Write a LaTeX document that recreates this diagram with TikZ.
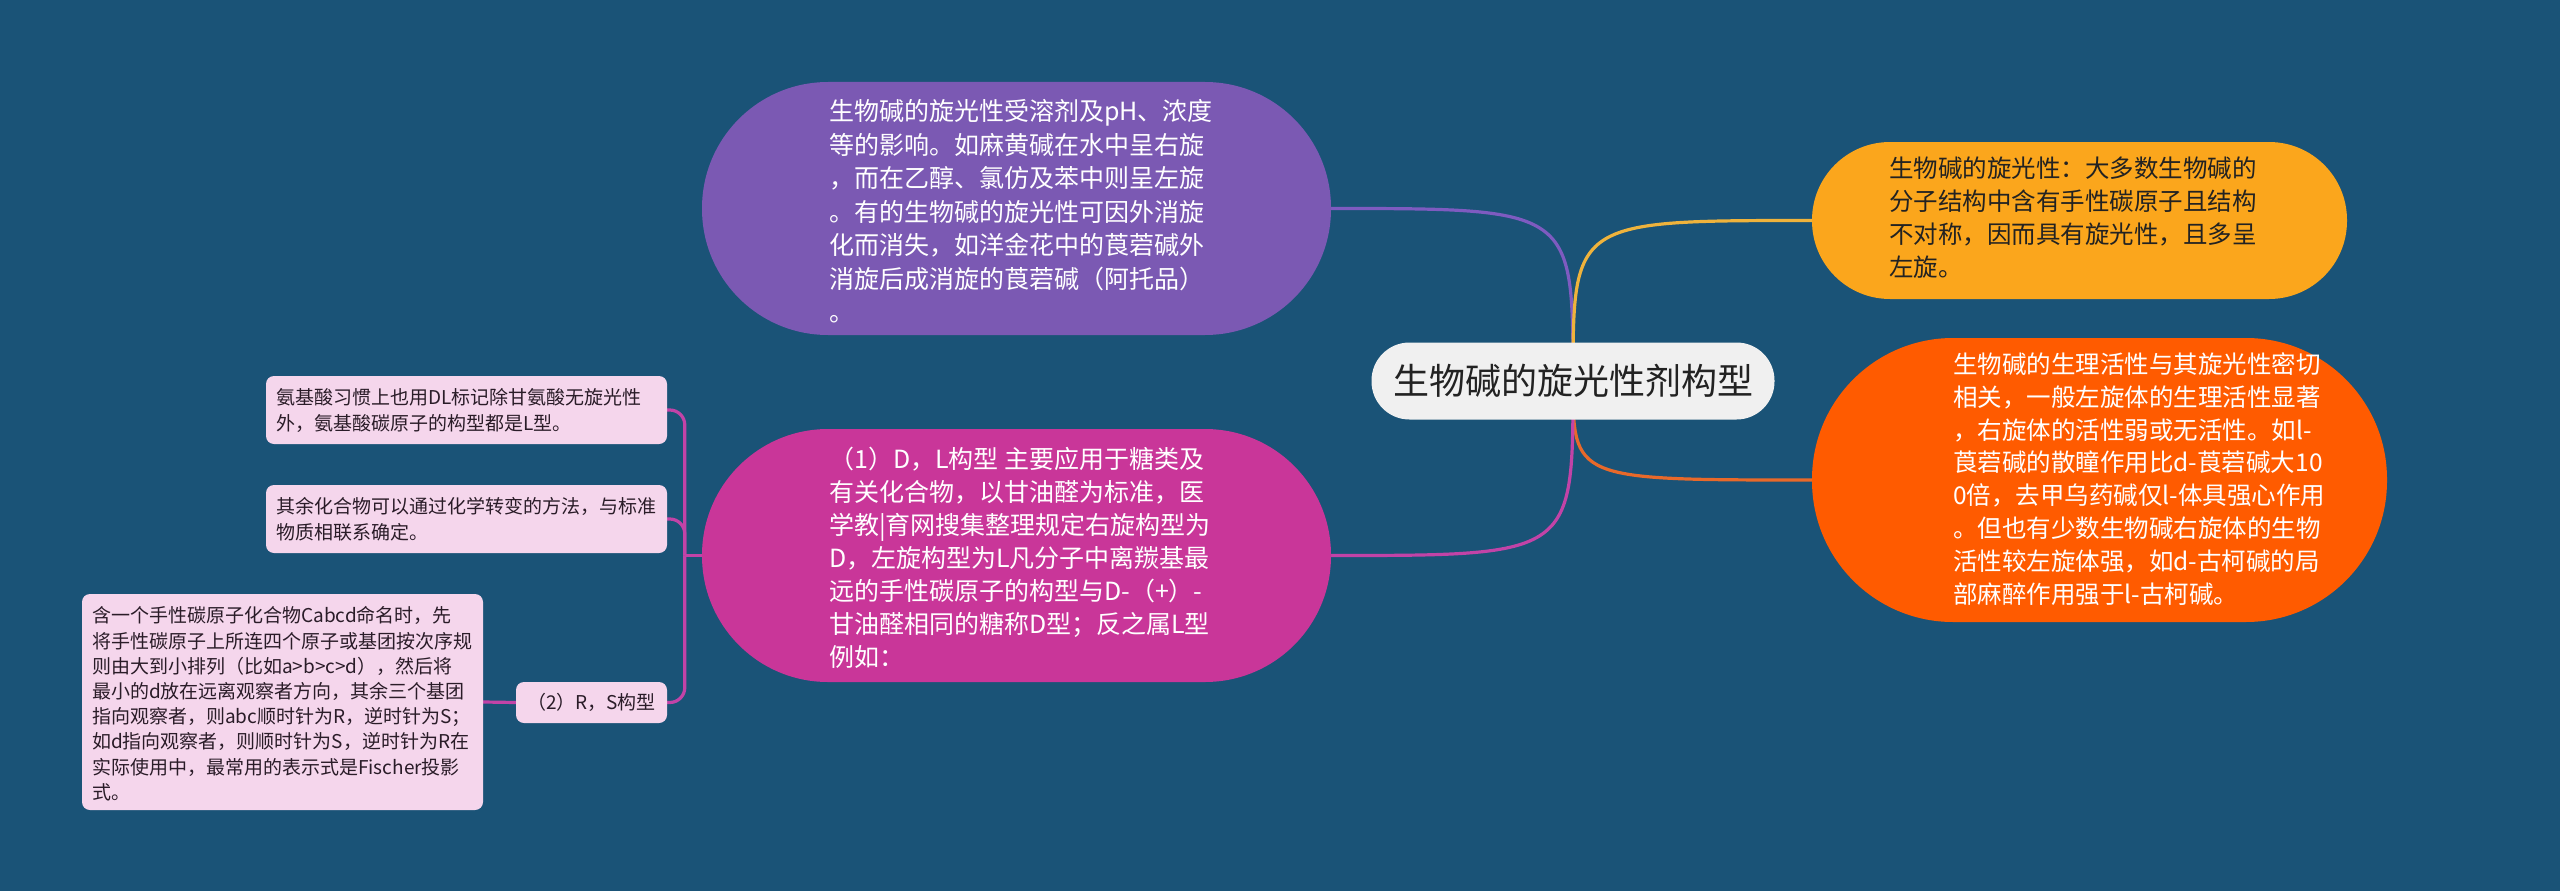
\documentclass[tikz,border=0pt]{standalone}
\usepackage{fontspec}
\setmainfont{Noto Sans CJK SC}
\usetikzlibrary{backgrounds}
\definecolor{bgc}{HTML}{1A5377}
\definecolor{cfill}{HTML}{F0F0F0}
\definecolor{pfill}{HTML}{7B59B3}
\definecolor{yfill}{HTML}{FBA61C}
\definecolor{ofill}{HTML}{FF5B00}
\definecolor{mfill}{HTML}{C93699}
\definecolor{lfill}{HTML}{F5D6EC}
\definecolor{pline}{HTML}{7E5BC0}
\definecolor{yline}{HTML}{EFB33C}
\definecolor{oline}{HTML}{E8692A}
\definecolor{mline}{HTML}{C243A7}
\definecolor{ltext}{HTML}{2A1C28}
\definecolor{dtext}{HTML}{222222}
\newcommand\mystrut{\rule{0pt}{0.95em}}
\begin{document}
\begin{tikzpicture}[x=1pt,y=-1pt,
  box/.style={draw=none, inner sep=0pt, rectangle},
  txt/.style={inner sep=0pt, anchor=north west, align=left},
  bigfont/.style={font=\fontsize{25pt}{33.5pt}\selectfont},
  midfont/.style={font=\fontsize{24.5pt}{33pt}\selectfont},
  leaffont/.style={font=\fontsize{19pt}{25.4pt}\selectfont},
  leafbox/.style={box, fill=lfill, rounded corners=8pt, minimum width=401pt},
  conn/.style={line width=3.2pt},
]
\useasboundingbox (0,0) rectangle (2560,891);

% central topic
\node[box, fill=cfill, rounded corners=38pt, minimum width=403pt, minimum height=77pt,
      text=dtext, font=\fontsize{36pt}{40pt}\selectfont] (c) at (1573,381) {生物碱的旋光性剂构型};

% purple
\node[box, fill=pfill, rounded corners=126pt, minimum width=629pt, minimum height=253pt] (p) at (1016.5,208.5) {};
\node[txt, bigfont, text=white] (pt) at (829,96.8) {\mystrut 生物碱的旋光性受溶剂及pH、浓度\\
等的影响。如麻黄碱在水中呈右旋\\
，而在乙醇、氯仿及苯中则呈左旋\\
。有的生物碱的旋光性可因外消旋\\
化而消失，如洋金花中的莨菪碱外\\
消旋后成消旋的莨菪碱（阿托品）\\
。};

% yellow-orange
\node[box, fill=yfill, rounded corners=78pt, minimum width=535pt, minimum height=157pt] (y) at (2079.5,220.5) {};
\node[txt, midfont, text=dtext] (yt) at (1889,154) {\mystrut 生物碱的旋光性：大多数生物碱的\\
分子结构中含有手性碳原子且结构\\
不对称，因而具有旋光性，且多呈\\
左旋。};

% orange
\node[box, fill=ofill, rounded corners=141pt, minimum width=575pt, minimum height=284pt] (o) at (2099.5,480) {};
\node[txt, font=\fontsize{24.5pt}{32.8pt}\selectfont, text=white] (ot) at (1953,350) {\mystrut 生物碱的生理活性与其旋光性密切\\
相关，一般左旋体的生理活性显著\\
，右旋体的活性弱或无活性。如l-\\
莨菪碱的散瞳作用比d-莨菪碱大10\\
0倍，去甲乌药碱仅l-体具强心作用\\
。但也有少数生物碱右旋体的生物\\
活性较左旋体强，如d-古柯碱的局\\
部麻醉作用强于l-古柯碱。};

% magenta
\node[box, fill=mfill, rounded corners=126pt, minimum width=629pt, minimum height=253pt] (m) at (1016.5,555.5) {};
\node[txt, font=\fontsize{25pt}{32.9pt}\selectfont, text=white] (mt) at (829,444.8) {\mystrut （1）D，L构型 主要应用于糖类及\\
有关化合物，以甘油醛为标准，医\\
学教|育网搜集整理规定右旋构型为\\
D，左旋构型为L凡分子中离羰基最\\
远的手性碳原子的构型与D-（+）-\\
甘油醛相同的糖称D型；反之属L型\\
例如：};

% leaves
\node[leafbox, minimum height=68pt] (l1) at (466.5,410) {};
\node[txt, leaffont, text=ltext] (l1t) at (276,386.7) {\mystrut 氨基酸习惯上也用DL标记除甘氨酸无旋光性\\
外，氨基酸碳原子的构型都是L型。};

\node[leafbox, minimum height=68pt] (l2) at (466.5,519) {};
\node[txt, leaffont, text=ltext] (l2t) at (276,495.5) {\mystrut 其余化合物可以通过化学转变的方法，与标准\\
物质相联系确定。};

\node[box, fill=lfill, rounded corners=8pt, minimum width=151pt, minimum height=41pt,
      leaffont, text=ltext] (l3) at (591.5,702.5) {（2）R，S构型};

\node[leafbox, minimum height=216pt] (l4) at (282.5,702) {};
\node[txt, font=\fontsize{19pt}{25.2pt}\selectfont, text=ltext] (l4t) at (92,604.7) {\mystrut 含一个手性碳原子化合物Cabcd命名时，先\\
将手性碳原子上所连四个原子或基团按次序规\\
则由大到小排列（比如a>b>c>d），然后将\\
最小的d放在远离观察者方向，其余三个基团\\
指向观察者，则abc顺时针为R，逆时针为S；\\
如d指向观察者，则顺时针为S，逆时针为R在\\
实际使用中，最常用的表示式是Fischer投影\\
式。};

% connectors and background
\begin{scope}[on background layer]
\fill[bgc] (0,0) rectangle (2560,891);
\draw[conn, pline] (c.center) .. controls (c.center |- p.east) .. (p.east);
\draw[conn, yline] (c.center) .. controls (c.center |- y.west) .. (y.west);
\draw[conn, oline] (c.center) .. controls (c.center |- o.west) .. (o.west);
\draw[conn, mline] (c.center) .. controls (c.center |- m.east) .. (m.east);
\coordinate (jn) at ([xshift=-17pt]m.west);
\draw[conn, mline] (m.west) -- (jn);
\draw[conn, mline, rounded corners=15pt] (jn) |- (l1.east);
\draw[conn, mline, rounded corners=15pt] (jn) |- (l2.east);
\draw[conn, mline, rounded corners=15pt] (jn) |- (l3.east);
\draw[conn, mline] (l3.west) -- (l4.east);
\end{scope}
\end{tikzpicture}
\end{document}
